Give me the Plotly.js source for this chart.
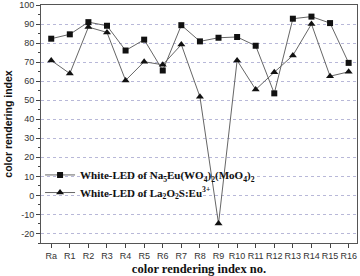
<!DOCTYPE html>
<html><head><meta charset="utf-8">
<script src="https://cdn.plot.ly/plotly-3.0.1.min.js"></script>
<style>html,body{margin:0;padding:0;background:#fff}#c{width:360px;height:276px}</style>
</head><body><div id="c"></div>
<script>
const categories = ["Ra","R1","R2","R3","R4","R5","R6","R7","R8","R9","R10","R11","R12","R13","R14","R15","R16"];
const naEuValues = [82.3,84.6,91,89.1,76.1,81.8,65.6,89.4,80.9,82.8,83.2,78.6,53.6,92.8,93.9,90.5,69.6];
const laEuValues = [70.9,64,88.4,85.6,60.4,70.2,68.6,79.2,51.8,-14.8,70.9,55.6,64.7,73.5,90,62.6,64.9];
const yTicks = [-20,-10,0,10,20,30,40,50,60,70,80,90,100];
const serif = "Liberation Serif, Times New Roman, serif";
const sans = "Liberation Sans, Arial, sans-serif";
const traces = [
  {x: categories, y: naEuValues, mode: "lines+markers", legend: "legend",
   name: "<b>White-LED of Na<sub>5</sub>Eu(WO<sub>4</sub>)<sub>2</sub>(MoO<sub>4</sub>)<sub>2</sub></b>",
   line: {color: "#666", width: 1}, marker: {symbol: "square", size: 6, color: "#111"}},
  {x: categories, y: laEuValues, mode: "lines+markers", legend: "legend2",
   name: "<b>White-LED of La<sub>2</sub>O<sub>2</sub>S:Eu<sup>3+</sup></b>",
   line: {color: "#666", width: 1}, marker: {symbol: "triangle-up", size: 7, color: "#111"}}
];
const legendBase = {x: -0.003, xanchor: "left", yanchor: "middle", bgcolor: "rgba(0,0,0,0)",
  font: {family: serif, size: 11, color: "#111"}, itemwidth: 30};
const layout = {
  width: 360, height: 276,
  margin: {l: 41, r: 3, t: 5, b: 33},
  paper_bgcolor: "#fff", plot_bgcolor: "#fff",
  showlegend: true,
  legend: Object.assign({}, legendBase, {y: 0.286}),
  legend2: Object.assign({}, legendBase, {y: 0.212}),
  xaxis: {type: "category", range: [-0.55, 16.45], tickvals: categories, ticktext: categories,
    ticks: "outside", ticklen: 4, tickcolor: "#444", showgrid: false, zeroline: false,
    showline: true, linecolor: "#555", linewidth: 1, mirror: true,
    tickfont: {family: sans, size: 9, color: "#333"},
    title: {text: "<b>color rendering index no.</b>", font: {family: serif, size: 12.5, color: "#111"}, standoff: 5}},
  yaxis: {range: [-25, 100], tickvals: yTicks, ticktext: yTicks.map(String),
    ticks: "outside", ticklen: 4, tickcolor: "#444",
    minor: {dtick: 5, ticks: "outside", ticklen: 2, tickcolor: "#444", showgrid: false},
    showgrid: true, gridcolor: "#b8b8d8", griddash: "dot", gridwidth: 1, zeroline: false,
    showline: true, linecolor: "#555", linewidth: 1, mirror: true,
    tickfont: {family: sans, size: 9, color: "#333"},
    title: {text: "<b>color rendering index</b>", font: {family: sans, size: 10.5, color: "#111"}, standoff: 4}}
};
Plotly.newPlot("c", traces, layout, {displayModeBar: false, staticPlot: true});
</script></body></html>
